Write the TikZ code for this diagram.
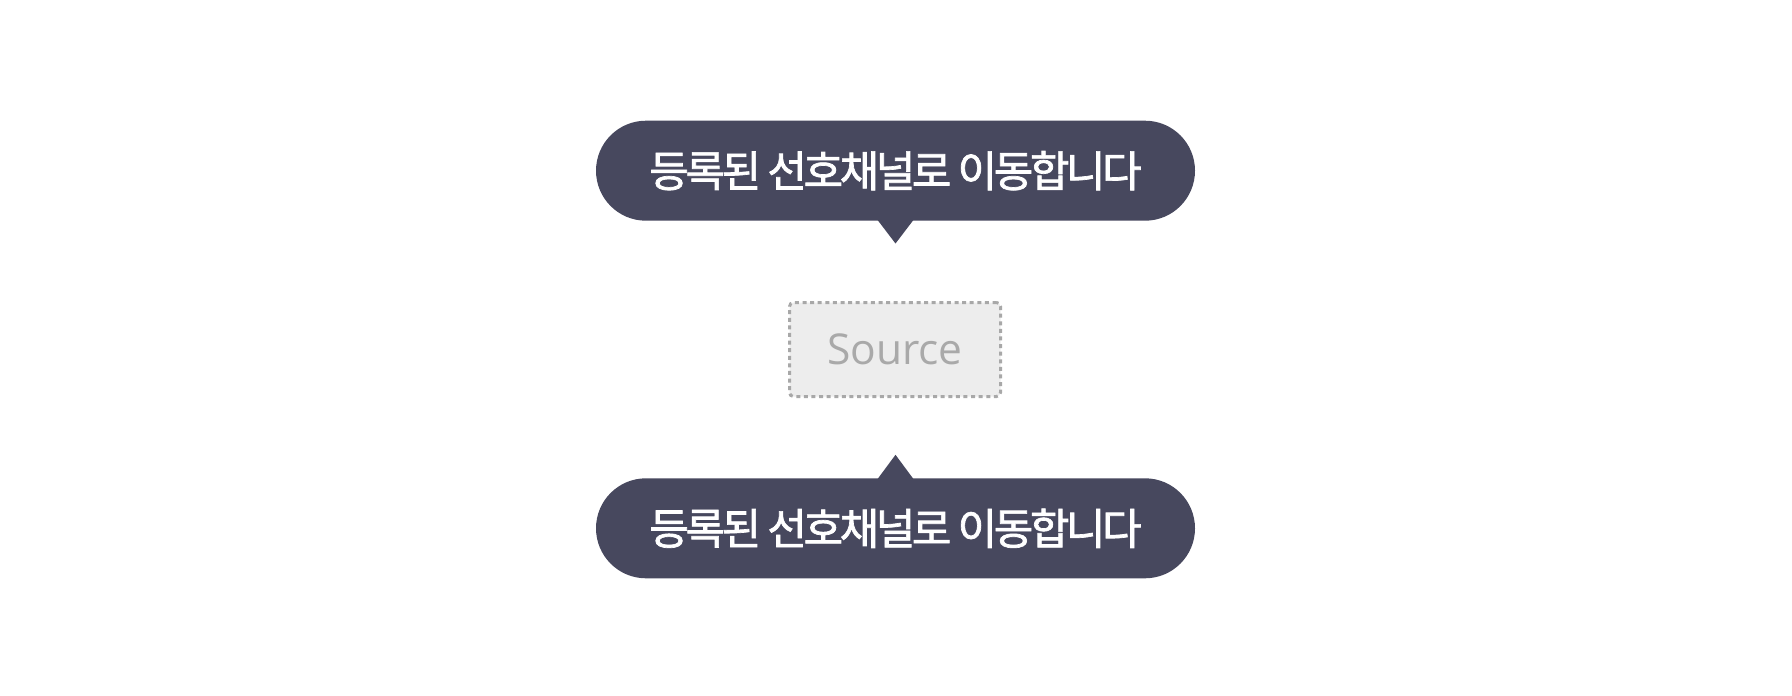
\documentclass[tikz,border=0pt]{standalone}
\usepackage{fontspec}
\setmainfont{Open Sans}
\newfontfamily\krfont[FakeBold=1.6,LetterSpace=-8]{Noto Sans CJK KR}
\definecolor{bubblecol}{HTML}{47485E}
\definecolor{srcfill}{HTML}{EDEDED}
\definecolor{srcline}{HTML}{A8A8A8}
\definecolor{srctext}{HTML}{A9A9A9}
\begin{document}
\begin{tikzpicture}[x=1pt,y=-1pt]
\tikzset{
  bubble/.style={fill=bubblecol, rounded corners=50pt, minimum width=599pt,
    minimum height=100pt, inner sep=0pt, text=white,
    font=\krfont\fontsize{43}{50}\selectfont},
  srcbox/.style={fill=srcfill, draw=srcline, line width=3pt,
    dash pattern=on 4pt off 3.6pt, rounded corners=4pt,
    minimum width=211pt, minimum height=94pt, inner sep=0pt,
    text=srctext, font=\fontsize{42.5}{50}\selectfont},
  pointer/.style={fill=bubblecol}
}
\useasboundingbox[fill=white] (0,0) rectangle (1792,696);
\node[bubble] (top) at (895.5,170.7) {등록된 선호채널로 이동합니다};
\coordinate (toptip) at ([yshift=-22.6pt]top.south);
\fill[pointer] ([xshift=-18pt,yshift=1pt]top.south) -- ([xshift=18pt,yshift=1pt]top.south) -- (toptip) -- cycle;
\node[srcbox] (src) at (895,349.5) {Source};
\node[bubble] (bot) at (895.5,528.3) {등록된 선호채널로 이동합니다};
\coordinate (bottip) at ([yshift=23.3pt]bot.north);
\fill[pointer] ([xshift=-18pt,yshift=-1pt]bot.north) -- ([xshift=18pt,yshift=-1pt]bot.north) -- (bottip) -- cycle;
\end{tikzpicture}
\end{document}
